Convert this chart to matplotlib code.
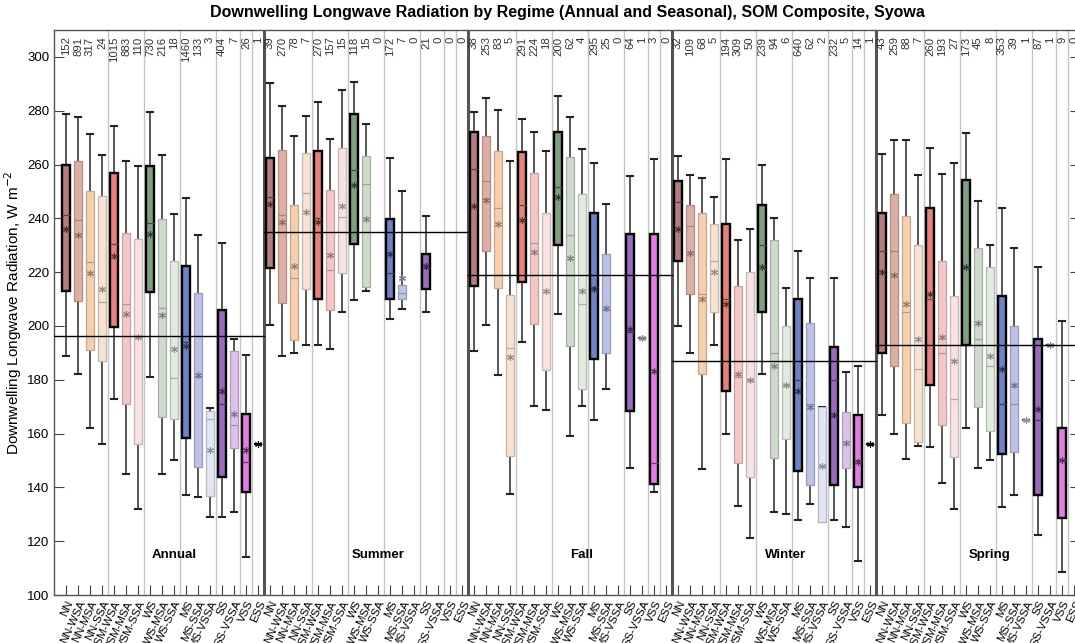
import numpy as np
import matplotlib
matplotlib.use('Agg')
import matplotlib.pyplot as plt
from matplotlib.colors import to_rgb

plt.rcParams['font.family'] = ['Liberation Sans', 'DejaVu Sans']

categories = ['NN', 'NN-WSA', 'NN-MSA', 'NN-SSA', 'VSM-WSA', 'VSM-MSA', 'VSM-SSA',
              'WS', 'WS-MSA', 'WS-SSA', 'MS', 'MS-SSA', 'MS-VSSA', 'SS', 'SS-VSSA',
              'VSS', 'ESS']
seasons = ['Annual', 'Summer', 'Fall', 'Winter', 'Spring']
season_means = [196.3, 234.9, 218.9, 187.0, 193.0]

counts_annual = [152, 891, 317, 24, 1015, 883, 110, 730, 216, 18, 1460, 133, 3, 404, 7, 26, 1]
counts_summer = [39, 270, 78, 7, 270, 157, 15, 118, 15, 0, 172, 7, 0, 21, 0, 0, 0]
counts_fall = [38, 253, 83, 5, 291, 224, 18, 200, 62, 4, 295, 25, 0, 64, 1, 3, 0]
counts_winter = [32, 109, 68, 5, 194, 309, 50, 239, 94, 6, 640, 62, 2, 232, 5, 14, 1]
counts_spring = [43, 259, 88, 7, 260, 193, 27, 173, 45, 8, 353, 39, 1, 87, 1, 9, 0]

nan = np.nan
# whisker low, Q1, median, Q3, whisker high, mean
annual_lo = [189, 182, 162, 156, 173, 145, 132, 181, 145, 150.2, 137, 136.3, 129, 128.9, 130.9, 114, 156]
annual_q1 = [212.9, 209.3, 191, 187, 199.5, 171, 156, 212.5, 166, 165.4, 158.2, 147.7, 136.8, 143.7, 154.7, 138.4, 156]
annual_med = [241.1, 239.3, 223.8, 209, 230.4, 208.1, 196, 238.1, 206.7, 180.7, 194.1, 181, 165.3, 170.9, 163.2, 149.5, 156]
annual_q3 = [259.8, 261.2, 250.2, 248.4, 256.7, 234.4, 232.2, 259.4, 239.6, 224.3, 222.3, 212.3, 168.5, 205.9, 190.6, 167.1, 156]
annual_hi = [278.7, 277.5, 271.2, 263.7, 274.4, 261.2, 259.5, 279.6, 263.7, 241.6, 247.4, 233.8, 169.4, 230.7, 195.2, 189.2, 156]
annual_mean = [235.9, 233.9, 219.8, 213.6, 226.1, 204.4, 196, 234, 204, 191.3, 192.5, 181.7, 153.9, 175.7, 167.2, 153.9, 156]

summer_lo = [200.3, 189, 190, 192.8, 192.8, 191.5, 205.3, 209.8, 213.1, nan, 202.7, 206.4, nan, 205.2, nan, nan, nan]
summer_q1 = [221.6, 208.4, 194.7, 213.6, 210.2, 205.9, 219.5, 230.4, 214.3, nan, 210.1, 209.9, nan, 213.7, nan, nan, nan]
summer_med = [248.0, 241.4, 217.9, 249.5, 240.3, 220.8, 240.6, 257.9, 252.7, nan, 219.8, 212.3, nan, 221.4, nan, nan, nan]
summer_q3 = [262.6, 265.3, 244.9, 264.3, 265.1, 250.5, 266.0, 278.7, 263.1, nan, 239.7, 215.2, nan, 226.8, nan, nan, nan]
summer_hi = [290.4, 281.8, 270.7, 278.1, 283.3, 269.4, 287.6, 290.5, 275.2, nan, 262.6, 250.2, nan, 240.8, nan, nan, nan]
summer_mean = [245.5, 238.7, 222.4, 242.4, 238.7, 226.3, 244.7, 252.4, 239.7, nan, 226.7, 218.0, nan, 222.2, nan, nan, nan]

fall_lo = [190.8, 200.3, 181.7, 137.4, 193.9, 170.2, 168.7, 204.3, 159.1, 170.3, 165.0, 176.5, nan, 147.3, 195.7, 138.4, nan]
fall_q1 = [214.8, 227.8, 214.2, 151.7, 216.4, 200.9, 183.8, 230.0, 192.6, 176.5, 187.9, 189.8, nan, 168.4, 195.7, 141.1, nan]
fall_med = [258.2, 254.0, 244.0, 191.7, 244.9, 230.9, 212.7, 251.7, 233.8, 208.0, 214.6, 205.9, nan, 197.8, 195.7, 149.2, nan]
fall_q3 = [272.2, 270.5, 265.1, 211.5, 264.5, 257.0, 241.8, 272.2, 262.9, 249.2, 242.1, 226.6, nan, 234.0, 195.7, 234.0, nan]
fall_hi = [279.6, 284.8, 280.4, 261.3, 276.9, 272.2, 265.1, 285.4, 277.7, 265.7, 260.6, 245.5, nan, 255.7, 195.7, 262.2, nan]
fall_mean = [244.7, 246.8, 238.0, 188.3, 239.3, 227.6, 212.9, 248.0, 225.3, 212.9, 213.9, 206.8, nan, 198.7, 195.7, 183.2, nan]

winter_lo = [200, 190, 147, 193, 160, 133, 121, 182, 131, 130, 128, 134, 127, 128, 125.1, 112.7, 156]
winter_q1 = [224, 212, 182, 205, 176, 149, 144, 205, 151, 158, 146, 141, 127, 141, 147.1, 140.2, 156]
winter_med = [246, 237, 212, 224, 210, 181, 180, 230, 190, 178, 180, 171, 148, 180, 157, 150, 156]
winter_q3 = [254, 245, 242, 238, 238, 215, 220, 245, 232, 200, 210, 201, 170, 192, 168, 167, 156]
winter_hi = [263, 256, 255, 248, 262, 232, 236, 260, 240, 214, 228, 218, 170, 218, 183, 185, 156]
winter_mean = [236, 227, 210, 220, 208, 182, 180, 222, 185, 178, 176, 170, 148, 167, 156.6, 149.3, 156]

spring_lo = [167, 160, 150.5, 155.3, 154.9, 141.5, 131.8, 162, 147.1, 150.2, 132.6, 137.2, 165, 122.3, 193, 108.4, nan]
spring_q1 = [190, 185, 164, 157, 178, 163, 151.2, 193, 170, 161, 152.4, 153.2, 165, 137.0, 193, 128.7, nan]
spring_med = [228, 228, 205, 184, 210, 190, 173, 222, 195, 185, 171, 171, 165, 165, 193, 150, nan]
spring_q3 = [242, 249, 241, 230, 244, 224, 211, 254.1, 229, 222, 211, 200, 165, 195, 193, 162, nan]
spring_hi = [264, 269, 269, 256, 266, 256.4, 260.4, 271.8, 246.6, 230, 243.9, 229, 165, 222, 193, 202, nan]
spring_mean = [220, 219, 208, 195, 212, 196, 187, 222, 201, 189, 184, 178, 165, 169, 193, 150, nan]

season_counts = [counts_annual, counts_summer, counts_fall, counts_winter, counts_spring]
season_stats = [
    (annual_lo, annual_q1, annual_med, annual_q3, annual_hi, annual_mean),
    (summer_lo, summer_q1, summer_med, summer_q3, summer_hi, summer_mean),
    (fall_lo, fall_q1, fall_med, fall_q3, fall_hi, fall_mean),
    (winter_lo, winter_q1, winter_med, winter_q3, winter_hi, winter_mean),
    (spring_lo, spring_q1, spring_med, spring_q3, spring_hi, spring_mean),
]

face_colors = ['#b57d7d', '#ddb0a6', '#f6cfae', '#f7e3d4', '#e8807c', '#f5c8c8', '#f9e2e2',
               '#7f9f7f', '#cddbca', '#e1ebdf', '#6f82c6', '#bcc3e6', '#e2e5f5',
               '#9a6bbd', '#dcc2e6', '#e57be5', '#000000']
primary = {0, 4, 7, 10, 13, 15, 16}
family_breaks = [4.5, 7.5, 10.5, 13.5, 15.5, 16.5]

ncat = len(categories)
fig = plt.figure(figsize=(10.75, 6.43), dpi=100)
ax = fig.add_axes([54 / 1075, 48 / 643, 1026 / 1075, 565 / 643])


def darker(c, f):
    r, g, b = to_rgb(c)
    return (r * f, g * f, b * f)


stats, positions, cols = [], [], []
for s, st in enumerate(season_stats):
    lo, q1, med, q3, hi, mn = st
    for j in range(ncat):
        if np.isnan(lo[j]):
            continue
        stats.append(dict(whislo=lo[j], q1=q1[j], med=med[j], q3=q3[j],
                          whishi=hi[j], mean=mn[j], fliers=[]))
        positions.append(s * ncat + j + 1)
        cols.append(j)

art = ax.bxp(stats, positions=positions, widths=0.6, patch_artist=True,
             showmeans=True, meanline=False, showfliers=False, capwidths=0.42,
             manage_ticks=False)

for k, j in enumerate(cols):
    fc = face_colors[j]
    box = art['boxes'][k]
    if j == 16:
        box.set_facecolor('none'); box.set_edgecolor('black'); box.set_linewidth(1.2)
        mcol = 'black'
        medc = 'black'
    elif j in primary:
        box.set_facecolor(fc); box.set_edgecolor('black'); box.set_linewidth(1.7)
        mcol = darker(fc, 0.4)
        medc = darker(fc, 0.5)
    else:
        box.set_facecolor(fc); box.set_edgecolor(darker(fc, 0.8)); box.set_linewidth(0.9)
        mcol = darker(fc, 0.62)
        medc = darker(fc, 0.75)
    box.set_zorder(3)
    art['medians'][k].set_color(medc)
    art['medians'][k].set_linewidth(0.9)
    art['medians'][k].set_zorder(4)
    for w in art['whiskers'][2 * k:2 * k + 2]:
        w.set_color('#3a3a3a'); w.set_linewidth(1.2); w.set_zorder(2)
    for c in art['caps'][2 * k:2 * k + 2]:
        c.set_color('#222222'); c.set_linewidth(1.5); c.set_zorder(2)
    m = art['means'][k]
    m.set_marker((6, 2, 0)); m.set_markersize(5)
    m.set_markeredgecolor(mcol); m.set_markerfacecolor(mcol)
    m.set_markeredgewidth(0.8); m.set_zorder(5)

# separators
for s in range(len(seasons)):
    for b in family_breaks:
        ax.axvline(s * ncat + b, color='#c4c4c4', lw=1.0, zorder=1)
    if s > 0:
        ax.axvline(s * ncat + 0.5, color='#555555', lw=2.2, zorder=1)

# season mean lines and labels
for s, mval in enumerate(season_means):
    x0 = s * ncat + 0.5 if s else 0
    x1 = (s + 1) * ncat + 0.5
    ax.plot([x0, x1], [mval, mval], color='black', lw=1.0, zorder=6)
    ax.text(s * ncat + 10, 115, seasons[s], fontsize=9.5, fontweight='bold',
            ha='center', va='center')

# counts along top
for s, cnt in enumerate(season_counts):
    for j, n in enumerate(cnt):
        ax.text(s * ncat + j + 1, 307.6, str(n), rotation=90, ha='center', va='top',
                fontsize=8.2, color='#333333', clip_on=False)

ax.set_xlim(0, 85.5)
ax.set_ylim(100, 310)
ax.set_yticks(np.arange(100, 301, 20))
ax.set_xticks(np.arange(1, len(seasons) * ncat + 1))
ax.set_xticklabels(categories * len(seasons), rotation=65, ha='right',
                   rotation_mode='anchor', fontsize=8.2)
ax.tick_params(axis='x', direction='in', length=7, top=False, pad=3, color='#444444')
ax.tick_params(axis='y', direction='in', length=7, left=True, right=True,
               labelsize=9.5, color='#444444')
for sp in ax.spines.values():
    sp.set_color('#555555')
    sp.set_linewidth(1.0)

ax.set_ylabel('Downwelling Longwave Radiation, W m$^{-2}$', fontsize=11, labelpad=2)
fig.text(567 / 1075, 1 - 12 / 643,
         'Downwelling Longwave Radiation by Regime (Annual and Seasonal), SOM Composite, Syowa',
         ha='center', va='center', fontsize=11.5, fontweight='bold')

fig.savefig('out.png', dpi=100)
